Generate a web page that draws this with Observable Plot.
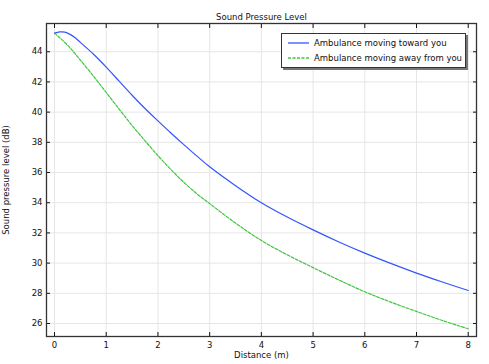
<!DOCTYPE html>
<html><head><meta charset="utf-8">
<script src="https://cdn.jsdelivr.net/npm/d3@7"></script>
<script src="https://cdn.jsdelivr.net/npm/@observablehq/plot@0.6"></script>
<style>
body{margin:0;background:#fff;font-family:"DejaVu Sans",sans-serif;}
#wrap{position:relative;width:489px;height:364px;}
#legend{position:absolute;left:281px;top:33px;width:185px;height:35px;border:1px solid #333;background:#fff;box-shadow:2px 2px 0 #777;font-size:8.5px;color:#111;box-sizing:border-box;}
#legend .row{position:absolute;left:6px;height:12px;display:flex;align-items:center;white-space:nowrap;}
#legend svg{margin-right:5px;}
</style></head>
<body><div id="wrap"><div id="legend"></div></div>
<script>
const distance = [0, 0.1, 0.2, 0.3, 0.4, 0.5, 0.75, 1.0, 1.25, 1.5, 1.75, 2.0, 2.25, 2.5, 2.75, 3.0, 3.5, 4.0, 4.5, 5.0, 5.5, 6.0, 6.5, 7.0, 7.5, 8.0];
const towardYou = [45.23, 45.31, 45.30, 45.15, 44.92, 44.62, 43.85, 42.98, 42.05, 41.12, 40.24, 39.42, 38.62, 37.85, 37.1, 36.38, 35.13, 34.0, 33.05, 32.2, 31.4, 30.66, 29.98, 29.34, 28.75, 28.19];
const awayFromYou = [45.23, 44.93, 44.61, 44.26, 43.86, 43.45, 42.4, 41.3, 40.2, 39.12, 38.1, 37.12, 36.2, 35.35, 34.6, 33.94, 32.65, 31.5, 30.55, 29.7, 28.88, 28.1, 27.42, 26.8, 26.2, 25.65];
const seriesNames = ["Ambulance moving toward you", "Ambulance moving away from you"];
const seriesColors = ["#3355ff", "#3fc63f"];
const xTicks = [0, 1, 2, 3, 4, 5, 6, 7, 8];
const yTicks = [26, 28, 30, 32, 34, 36, 38, 40, 42, 44];
const titleText = "Sound Pressure Level";

const toward = distance.map((d, i) => ({x: d, y: towardYou[i]}));
const away = distance.map((d, i) => ({x: d, y: awayFromYou[i]}));

const fs = 8.5;
const chart = Plot.plot({
  width: 489, height: 364,
  marginLeft: 46, marginRight: 13, marginTop: 23, marginBottom: 28,
  style: {fontFamily: '"DejaVu Sans", sans-serif', fontSize: fs + "px", color: "#111", background: "#fff"},
  x: {domain: [-0.155, 8.16]},
  y: {domain: [25.14, 45.87]},
  marks: [
    Plot.gridX(xTicks, {stroke: "#e6e6e6", strokeOpacity: 1}),
    Plot.gridY(yTicks, {stroke: "#e6e6e6", strokeOpacity: 1}),
    Plot.axisX(xTicks, {anchor: "bottom", tickSize: 0, tickPadding: 5, label: "Distance (m)", labelAnchor: "center", labelArrow: "none", labelOffset: 21, fontSize: fs}),
    Plot.axisX(xTicks, {anchor: "bottom", tickSize: -4, tickFormat: () => "", label: null}),
    Plot.axisX(xTicks, {anchor: "top", tickSize: -4, tickFormat: () => "", label: null}),
    Plot.axisY(yTicks, {anchor: "left", tickSize: 0, tickPadding: 4, label: "Sound pressure level (dB)", labelAnchor: "center", labelArrow: "none", labelOffset: 44, fontSize: fs}),
    Plot.axisY(yTicks, {anchor: "left", tickSize: -4, tickFormat: () => "", label: null}),
    Plot.axisY(yTicks, {anchor: "right", tickSize: -4, tickFormat: () => "", label: null}),
    Plot.frame({stroke: "#333", strokeWidth: 1.3}),
    Plot.line(away, {x: "x", y: "y", stroke: seriesColors[1], strokeWidth: 1.2, strokeDasharray: "3,1.5", curve: "catmull-rom"}),
    Plot.line(toward, {x: "x", y: "y", stroke: seriesColors[0], strokeWidth: 1.2, curve: "catmull-rom"}),
    Plot.text([titleText], {frameAnchor: "top", dy: -10, fontSize: fs, fill: "#111"})
  ]
});
document.getElementById("wrap").prepend(chart);

const leg = document.getElementById("legend");
seriesNames.forEach((name, i) => {
  const row = document.createElement("div");
  row.className = "row";
  row.style.top = (3 + i * 14.5) + "px";
  row.innerHTML = `<svg width="21" height="4"><line x1="0" y1="2" x2="21" y2="2" stroke="${seriesColors[i]}" stroke-width="1.3" ${i ? 'stroke-dasharray="3,1.5"' : ''}/></svg><span>${name}</span>`;
  leg.appendChild(row);
});
</script></body></html>
